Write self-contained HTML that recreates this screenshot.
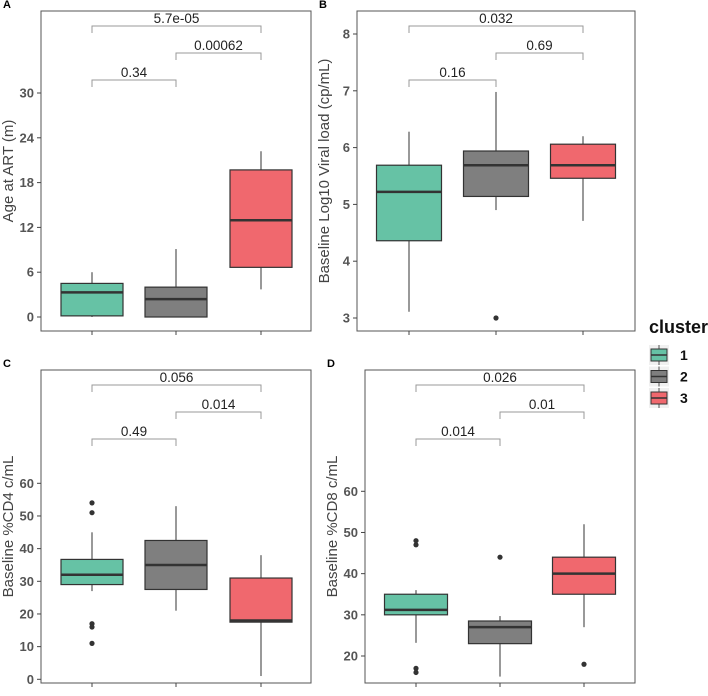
<!DOCTYPE html>
<html><head><meta charset="utf-8"><style>
body{margin:0;background:#fff;}
svg{display:block;font-family:"Liberation Sans",sans-serif;}
</style></head><body>
<svg id="chart" width="708" height="696"></svg>
<script>
const clusters = ["1","2","3"];
const colors = ["#66C2A5","#7F7F7F","#F0686E"];
// box stats: [lo, q1, med, q3, hi]
const statsA = [[0,0.15,3.3,4.5,6.0],[0,0,2.4,4.0,9.1],[3.7,6.65,12.95,19.7,22.2]];
const outA = [[],[],[]];
const statsB = [[3.11,4.36,5.22,5.69,6.28],[4.9,5.14,5.69,5.94,6.98],[4.71,5.46,5.69,6.06,6.2]];
const outB = [[],[3.0],[]];
const statsC = [[27,29,32,36.7,45],[21,27.5,35,42.5,53],[1,17.5,18,31,38]];
const outC = [[54,51,17,16,11],[],[]];
const statsD = [[23.2,30,31.2,35,36],[15,23,27,28.5,29.7],[27,35,40,44,52]];
const outD = [[48,47,17,16],[44],[18]];
const ticksA = [0,6,12,18,24,30];
const ticksB = [3,4,5,6,7,8];
const ticksC = [0,10,20,30,40,50,60];
const ticksD = [20,30,40,50,60];
const pA = ["0.34","0.00062","5.7e-05"];
const pB = ["0.16","0.69","0.032"];
const pC = ["0.49","0.014","0.056"];
const pD = ["0.014","0.01","0.026"];

const NS="http://www.w3.org/2000/svg";
const svg=document.getElementById('chart');
function el(tag,attrs,parent){const e=document.createElementNS(NS,tag);for(const k in attrs)e.setAttribute(k,attrs[k]);(parent||svg).appendChild(e);return e;}

function panel(cfg){
  const g=el('g',{});
  
  
  const lt=el('text',{x:cfg.fx0-38,y:cfg.fy0-3,'font-size':11,'font-weight':'bold',fill:'#000'},g);
  lt.textContent=cfg.letter;
  
  
  const fr=el('rect',{x:cfg.fx0,y:cfg.fy0,width:cfg.fx1-cfg.fx0,height:cfg.fy1-cfg.fy0,fill:'none',stroke:'#555','stroke-width':1},g);
  
  
  const y=v=>cfg.y0px-(v-cfg.v0)*cfg.scale;
  const xs=cfg.xs;
  cfg.ticks.forEach(t=>{
    el('line',{x1:cfg.fx0-4,x2:cfg.fx0,y1:y(t),y2:y(t),stroke:'#444'},g);
    const tx=el('text',{x:cfg.fx0-7,y:y(t)+4.5,'text-anchor':'end','font-size':13,'font-weight':'bold',fill:'#555'},g);
    tx.textContent=t;
    
    
  });
  xs.forEach(x=>el('line',{x1:x,x2:x,y1:cfg.fy1,y2:cfg.fy1+4,stroke:'#444'},g));
  const yt=el('text',{x:0,y:0,'text-anchor':'middle','font-size':15,fill:'#444',transform:`translate(${cfg.fx0-28},${(cfg.fy0+cfg.fy1)/2}) rotate(-90)`},g);
  yt.textContent=cfg.title;
  
  
  const hw=cfg.bw/2;
  cfg.stats.forEach((s,i)=>{
    const x=xs[i];
    const bg=el('g',{},g);
    
    
    el('line',{x1:x,x2:x,y1:y(s[0]),y2:y(s[1]),stroke:'#555','stroke-width':1.2},bg);
    el('line',{x1:x,x2:x,y1:y(s[3]),y2:y(s[4]),stroke:'#555','stroke-width':1.2},bg);
    el('rect',{x:x-hw,y:y(s[3]),width:cfg.bw,height:Math.max(0.5,y(s[1])-y(s[3])),fill:colors[i],stroke:'#333','stroke-width':1.2},bg);
    el('line',{x1:x-hw,x2:x+hw,y1:y(s[2]),y2:y(s[2]),stroke:'#333','stroke-width':2.5},bg);
    cfg.out[i].forEach(o=>{
      const c=el('circle',{cx:x,cy:y(o),r:2.6,fill:'#333'},bg);
      
      
    });
  });
  const pairs=[[0,1],[1,2],[0,2]];
  const by=[cfg.fy0+69,cfg.fy0+42,cfg.fy0+15];
  pairs.forEach((p,k)=>{
    const bk=el('g',{},g);
    
    
    const a=xs[p[0]],b=xs[p[1]];
    el('path',{d:`M${a},${by[k]+7}V${by[k]}H${b}V${by[k]+7}`,fill:'none',stroke:'#999','stroke-width':1},bk);
    const t=el('text',{x:(a+b)/2,y:by[k]-3,'text-anchor':'middle','font-size':13.5,fill:'#222'},bk);
    t.textContent=cfg.p[k];
  });
}
panel({letter:'A',fx0:41,fx1:311,fy0:11,fy1:331,y0px:317,v0:0,scale:224/30,xs:[92,176,261],bw:62,ticks:ticksA,stats:statsA,out:outA,p:pA,title:'Age at ART (m)'});
panel({letter:'B',fx0:357,fx1:635,fy0:11,fy1:331,y0px:318,v0:3,scale:56.8,xs:[409,496,583],bw:65,ticks:ticksB,stats:statsB,out:outB,p:pB,title:'Baseline Log10 Viral load (cp/mL)'});
panel({letter:'C',fx0:41,fx1:311,fy0:370,fy1:683,y0px:679.3,v0:0,scale:196/60,xs:[92,176,261],bw:62,ticks:ticksC,stats:statsC,out:outC,p:pC,title:'Baseline %CD4 c/mL'});
panel({letter:'D',fx0:365,fx1:635,fy0:370,fy1:683,y0px:656,v0:20,scale:164.7/40,xs:[416,500,584],bw:63,ticks:ticksD,stats:statsD,out:outD,p:pD,title:'Baseline %CD8 c/mL'});

// legend
const lg=el('g',{});


const lt=el('text',{x:649,y:333,'font-size':18,'font-weight':'bold',fill:'#111'},lg);
lt.textContent='cluster';
clusters.forEach((c,i)=>{
  const cy=355+i*21.5;
  const e=el('g',{},lg);
  
  
  el('rect',{x:649,y:cy-10,width:20,height:20,fill:'#f0f0f0'},e);
  el('line',{x1:659,x2:659,y1:cy-10,y2:cy+10,stroke:'#555'},e);
  el('rect',{x:651,y:cy-6,width:16,height:12,fill:colors[i],stroke:'#333'},e);
  el('line',{x1:651,x2:667,y1:cy,y2:cy,stroke:'#333','stroke-width':1.5},e);
  const t=el('text',{x:680,y:cy+5,'font-size':14,'font-weight':'bold',fill:'#111'},e);
  t.textContent=c;
});
</script>
</body></html>
